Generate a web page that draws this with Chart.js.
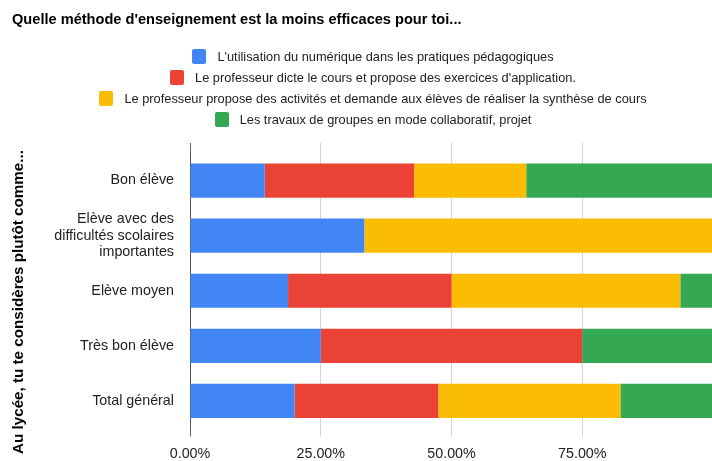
<!DOCTYPE html>
<html>
<head>
<meta charset="utf-8">
<script src="https://cdn.jsdelivr.net/npm/chart.js@4"></script>
<style>
  html, body { margin: 0; padding: 0; background: #fff; overflow: hidden; font-family: Arial, 'Liberation Sans', sans-serif; }
  #wrap { position: relative; width: 740px; height: 461px; }
  #chartBox { position: absolute; left: 0; top: 0; width: 713px; height: 461px; }
  #title { position: absolute; left: 12px; top: 11px; font-size: 14.6px; font-weight: bold; color: #000; white-space: nowrap; }
  #legend { position: absolute; left: 0; top: 46px; width: 746px; text-align: center; font-size: 12.8px; color: #222; }
  #legend .row { height: 21px; line-height: 21px; white-space: nowrap; }
  #legend .sw { display: inline-block; width: 14px; height: 15px; border-radius: 2px; vertical-align: middle; margin-right: 11px; position: relative; top: -1px; }
</style>
</head>
<body>
<div id="wrap">
  <div id="chartBox"><canvas id="chart"></canvas></div>
  <div id="title">Quelle méthode d'enseignement est la moins efficaces pour toi...</div>
  <div id="legend"></div>
</div>
<script>
const categories = [
    'Bon élève',
    ['Elève avec des', 'difficultés scolaires', 'importantes'],
    'Elève moyen',
    'Très bon élève',
    'Total général'
];
const seriesNames = [
    "L'utilisation du numérique dans les pratiques pédagogiques",
    "Le professeur dicte le cours et propose des exercices d'application.",
    "Le professeur propose des activités et demande aux élèves de réaliser la synthèse de cours",
    "Les travaux de groupes en mode collaboratif, projet"
];
const numerique = [0.1429, 0.3333, 0.1875, 0.25, 0.20];
const dicte = [0.2857, 0, 0.3125, 0.50, 0.275];
const activites = [0.2143, 0.6667, 0.4375, 0, 0.348];
const travaux = [0.3571, 0, 0.0625, 0.25, 0.177];
const colors = ['#4285F4', '#EA4335', '#FBBC04', '#34A853'];
// the 100% tick falls outside the cropped picture
const xTicks = [0, 0.25, 0.5, 0.75];
const yTitle = 'Au lycée, tu te considères plutôt comme...';

const font = "Arial, 'Liberation Sans', sans-serif";
const seriesValues = [numerique, dicte, activites, travaux];
const gridColor = c => c.index === 0 ? '#666' : '#d4d4d4';
const setTicks = axis => { axis.ticks = xTicks.map(v => ({ value: v })); };

// legend, one entry per line
const legendEl = document.getElementById('legend');
seriesNames.forEach((name, i) => {
    const row = document.createElement('div');
    row.className = 'row';
    const sw = document.createElement('span');
    sw.className = 'sw';
    sw.style.background = colors[i];
    row.appendChild(sw);
    row.appendChild(document.createTextNode(name));
    legendEl.appendChild(row);
});

// vertical axis title, placed a bit lower than the plot centre like the original
const axisTitle = {
    id: 'axisTitle',
    afterDraw(chart) {
        const c = chart.ctx;
        c.save();
        c.translate(19, 302);
        c.rotate(-Math.PI / 2);
        c.font = 'bold 15.2px ' + font;
        c.fillStyle = '#000';
        c.textAlign = 'center';
        c.textBaseline = 'middle';
        c.fillText(yTitle, 0, 0);
        c.restore();
    }
};

const ctx = document.getElementById('chart').getContext('2d');
new Chart(ctx, {
    type: 'bar',
    data: {
        labels: categories,
        datasets: seriesNames.map((name, i) => ({
            label: name,
            data: seriesValues[i],
            backgroundColor: colors[i],
            borderWidth: 0,
            barPercentage: 0.62,
            categoryPercentage: 1
        }))
    },
    options: {
        indexAxis: 'y',
        responsive: true,
        maintainAspectRatio: false,
        animation: false,
        layout: { padding: { left: 10, top: 143, bottom: 0, right: 0 } },
        plugins: {
            legend: { display: false },
            tooltip: { enabled: false }
        },
        scales: {
            x: {
                stacked: true,
                min: 0,
                max: 1,
                afterBuildTicks: setTicks,
                afterFit: s => { s.height = 32.5; },
                ticks: {
                    color: '#222',
                    font: { family: font, size: 14.3 },
                    padding: 9,
                    callback: v => (v * 100).toFixed(2) + '%'
                },
                grid: { color: gridColor, drawTicks: true, tickLength: 8 },
                border: { display: false }
            },
            xTop: {
                position: 'top',
                axis: 'x',
                min: 0,
                max: 1,
                afterBuildTicks: setTicks,
                afterFit: s => { s.height = 10; },
                ticks: { display: false },
                grid: { color: gridColor, drawOnChartArea: false, drawTicks: true, tickLength: 10 },
                border: { display: false }
            },
            y: {
                stacked: true,
                afterFit: s => { s.width = 180; },
                ticks: {
                    color: '#222',
                    font: { family: font, size: 14.3, lineHeight: 1.18 },
                    padding: 8
                },
                grid: { display: false },
                border: { display: true, color: '#555', width: 1 }
            }
        }
    },
    plugins: [axisTitle]
});
</script>
</body>
</html>
